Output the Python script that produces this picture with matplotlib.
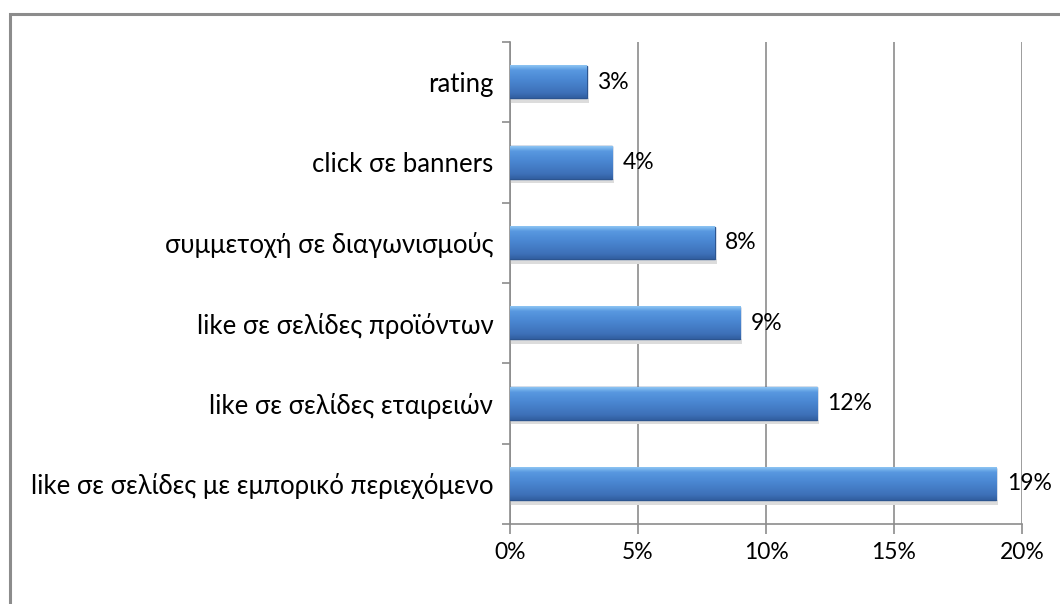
import numpy as np
import matplotlib
matplotlib.use("Agg")
import matplotlib.pyplot as plt
from matplotlib.patches import Rectangle
from matplotlib.colors import LinearSegmentedColormap

categories = ["like σε σελίδες με εμπορικό περιεχόμενο",
              "like σε σελίδες εταιρειών",
              "like σε σελίδες προϊόντων",
              "συμμετοχή σε διαγωνισμούς",
              "click σε banners",
              "rating"]
values = [19, 12, 9, 8, 4, 3]
xticks = [0, 5, 10, 15, 20]

plt.rcParams['font.family'] = ['Lato', 'Open Sans', 'DejaVu Sans']
FS = 16.5

fig = plt.figure(figsize=(10.6, 6.04), dpi=100)
# outer chart border
fig.patches.append(Rectangle((10 / 1060, -0.1), 1.2, 1 - 14 / 604 + 0.1,
                             transform=fig.transFigure, fill=False,
                             edgecolor='#8c8c8c', lw=2.2))

ax = fig.add_axes([510 / 1060, 1 - 524 / 604, 512 / 1060, 482 / 604])
y = np.arange(len(categories))
bars = ax.barh(y, values, height=0.4, color='#4a86cf', edgecolor='#2c5590',
               lw=1.0, zorder=3)

# vertical gradient on each bar
grad = LinearSegmentedColormap.from_list(
    'g', [(0, '#325fa0'), (0.15, '#3d70b8'), (0.55, '#4a87d2'),
          (0.85, '#5898e0'), (1.0, '#8cc4f3')])
g = np.linspace(0, 1, 64).reshape(-1, 1)
for b in bars:
    x0, y0, w, h = b.get_x(), b.get_y(), b.get_width(), b.get_height()
    ax.imshow(g, cmap=grad, aspect='auto', origin='lower',
              extent=(x0, x0 + w, y0, y0 + h), zorder=3.5)
    # soft shadow under the bar
    ax.add_patch(Rectangle((x0, y0 - 0.06), w + 0.08, 0.06, color='#dcdcdc',
                           lw=0, zorder=2.5))

for yi, v in zip(y, values):
    ax.text(v + 0.4, yi, f"{v}%", va='center', ha='left', fontsize=FS, color='#000000')

ax.set_xlim(0, 20)
ax.set_ylim(-0.5, len(categories) - 0.5)
ax.set_xticks(xticks)
ax.set_xticklabels([f"{t}%" for t in xticks], fontsize=FS)
ax.set_yticks(y)
ax.set_yticklabels(categories, fontsize=18.5)
ax.tick_params(axis='y', length=0, pad=12)
ax.set_yticks(np.arange(-0.5, len(categories), 1), minor=True)
ax.tick_params(axis='y', which='minor', length=6, color='#8c8c8c', width=1.2)
ax.tick_params(axis='x', length=7, color='#8c8c8c', width=1.2, pad=6)
ax.grid(axis='x', color='#8c8c8c', lw=1.2, zorder=0)
for s in ['top', 'right']:
    ax.spines[s].set_visible(False)
for s in ['left', 'bottom']:
    ax.spines[s].set_color('#8c8c8c')
    ax.spines[s].set_linewidth(1.2)

fig.savefig("out.png", dpi=100)
